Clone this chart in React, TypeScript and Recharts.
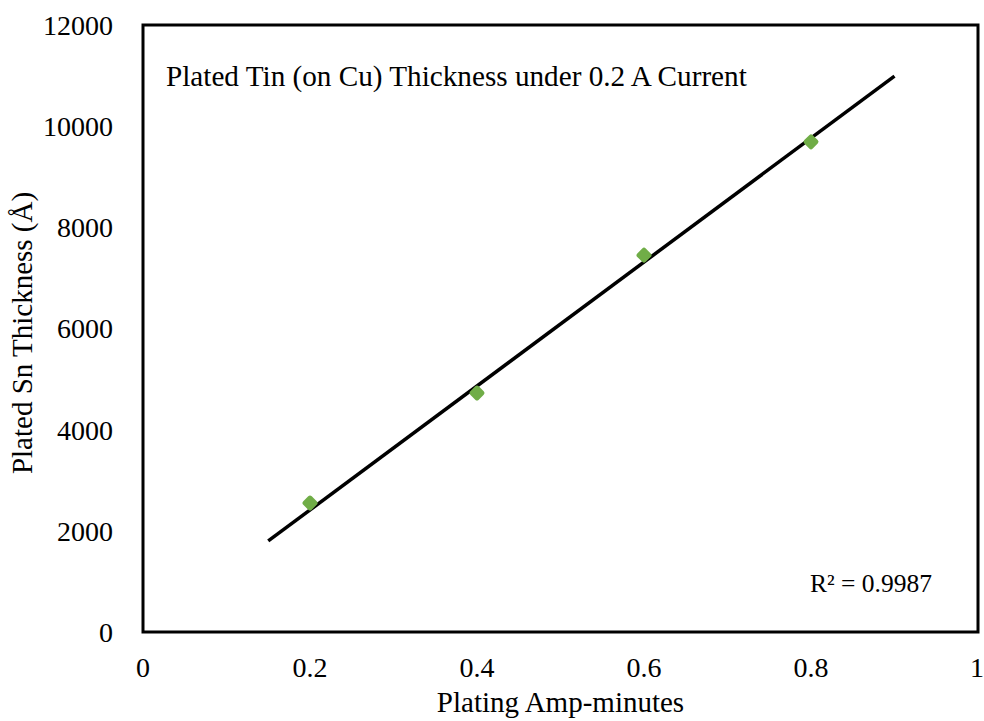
import React from 'react';
import { ComposedChart, XAxis, YAxis, Scatter, Line, ReferenceArea, Customized } from 'recharts';

const xValues = [0.2, 0.4, 0.6, 0.8];
const yValues = [2550, 4725, 7450, 9690];
const trendX = [0.15, 0.9];
const trendY = [1800, 10990];
const xTicks = [0, 0.2, 0.4, 0.6, 0.8, 1];
const yTicks = [0, 2000, 4000, 6000, 8000, 10000, 12000];

const titleText = 'Plated Tin (on Cu) Thickness under 0.2 A Current';
const r2Text = 'R² = 0.9987';
const xLabelText = 'Plating Amp-minutes';
const yLabelText = 'Plated Sn Thickness (Å)';

const points = xValues.map((x, i) => ({ x, y: yValues[i] }));
const trend = trendX.map((x, i) => ({ x, y: trendY[i] }));

const FONT = '"Liberation Serif", "Times New Roman", serif';

const Diamond = (props: any) => {
  const { cx, cy } = props;
  if (cx == null || cy == null) return null;
  const s = 12;
  return (
    <rect
      x={cx - s / 2}
      y={cy - s / 2}
      width={s}
      height={s}
      rx={2.5}
      ry={2.5}
      fill="#70AD47"
      transform={`rotate(45 ${cx} ${cy})`}
    />
  );
};

const Texts = () => (
  <g fontFamily={FONT} fill="#000">
    <text x={166} y={86} fontSize={29.2} fill="#000">{titleText}</text>
    <text x={810} y={592} fontSize={25.5} fill="#000">{r2Text}</text>
    <text x={560.5} y={712} fontSize={29} textAnchor="middle" fill="#000">{xLabelText}</text>
    <text
      x={32}
      y={333}
      fontSize={29}
      textAnchor="middle"
      fill="#000"
      transform="rotate(-90 32 333)"
    >
      {yLabelText}
    </text>
  </g>
);

export default function App() {
  return (
    <div style={{ position: 'absolute', left: 0, top: 0, width: 984, height: 721, background: '#fff' }}>
      <ComposedChart
        width={984}
        height={721}
        margin={{ top: 25, right: 6, left: 0, bottom: 0 }}
        style={{ fontFamily: FONT }}
      >
        <XAxis
          type="number"
          dataKey="x"
          domain={[0, 1]}
          ticks={xTicks}
          height={89}
          axisLine={false}
          tickLine={false}
          tickSize={0}
          tickMargin={25}
          tick={{ fontSize: 28, fill: '#000', fontFamily: FONT }}
          allowDataOverflow
        />
        <YAxis
          type="number"
          dataKey="y"
          domain={[0, 12000]}
          ticks={yTicks}
          width={143}
          axisLine={false}
          tickLine={false}
          tickSize={0}
          tickMargin={30}
          tick={{ fontSize: 28, fill: '#000', fontFamily: FONT }}
          allowDataOverflow
        />
        <ReferenceArea x1={0} x2={1} y1={0} y2={12000} fill="none" fillOpacity={0} stroke="#000" strokeWidth={3} />
        <Scatter data={points} dataKey="y" fill="#70AD47" shape={Diamond} isAnimationActive={false} />
        <Line
          data={trend}
          dataKey="y"
          type="linear"
          stroke="#000"
          strokeWidth={3.5}
          dot={false}
          activeDot={false}
          isAnimationActive={false}
        />
        <Customized component={Texts} />
      </ComposedChart>
    </div>
  );
}
